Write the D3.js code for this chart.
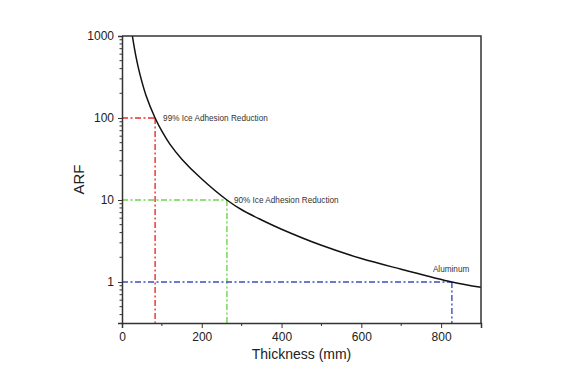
<!DOCTYPE html>
<html>
<head>
<meta charset="utf-8">
<script src="https://cdn.jsdelivr.net/npm/d3@7"></script>
<style>
  body { margin: 0; background: #fff; }
  svg { display: block; font-family: Arial, "Liberation Sans", sans-serif; }
</style>
</head>
<body>
<svg id="chart" width="567" height="385"></svg>
<script>
// ARF curve (thickness mm, ARF)
const thickness = [26, 35, 45, 60, 83, 100, 120, 150, 200, 263, 300, 350, 400, 500, 600, 700, 827, 900];
const arf = [1000, 560, 340, 190, 100, 69, 48, 31.5, 18, 10, 7.6, 5.7, 4.4, 2.8, 1.93, 1.43, 1.0, 0.86];

// reference markers
const markerLabels = ['99% Ice Adhesion Reduction', '90% Ice Adhesion Reduction', 'Aluminum'];
const markerArf = [100, 10, 1];
const markerThick = [83, 263, 827];
const markerColors = ['#ee2b2b', '#6cd64a', '#3b4fc0'];

const xTicks = [0, 200, 400, 600, 800];
const yTicks = [1, 10, 100, 1000];

const margin = { top: 36, right: 86, bottom: 62, left: 122 };
const width = 567, height = 385;

const svg = d3.select('#chart');

const x = d3.scaleLinear()
	.domain([0, 900])
	.range([margin.left, width - margin.right]);

const y = d3.scaleLog()
	.domain([0.316, 1000])
	.range([height - margin.bottom, margin.top]);

svg.append('clipPath').attr('id', 'clip')
	.append('rect')
	.attr('x', margin.left).attr('y', margin.top)
	.attr('width', width - margin.left - margin.right)
	.attr('height', height - margin.top - margin.bottom);

// dash-dot reference lines
markerArf.forEach((v, i) => {
	const g = svg.append('g')
		.attr('fill', 'none')
		.attr('stroke', markerColors[i])
		.attr('stroke-width', 1.4)
		.attr('stroke-dasharray', '6,2.5,2,2.5');
	g.append('line')
		.attr('x1', x(0)).attr('x2', x(markerThick[i]))
		.attr('y1', y(v)).attr('y2', y(v));
	g.append('line')
		.attr('x1', x(markerThick[i])).attr('x2', x(markerThick[i]))
		.attr('y1', y(v)).attr('y2', y.range()[0]);
});

// curve
const pts = thickness.map((t, i) => [t, arf[i]]);
const line = d3.line()
	.x(d => x(d[0]))
	.y(d => y(d[1]))
	.curve(d3.curveCatmullRom.alpha(0.5));

svg.append('path')
	.datum(pts)
	.attr('clip-path', 'url(#clip)')
	.attr('fill', 'none')
	.attr('stroke', '#111')
	.attr('stroke-width', 1.5)
	.attr('d', line);

// labels
const labelPos = [[8, 3], [7, 3], [-19, -10]];
markerLabels.forEach((s, i) => {
	svg.append('text')
		.attr('x', x(markerThick[i]) + labelPos[i][0])
		.attr('y', y(markerArf[i]) + labelPos[i][1])
		.attr('font-size', 8.2)
		.attr('fill', '#333')
		.text(s);
});

// frame top/right
svg.append('path')
	.attr('fill', 'none')
	.attr('stroke', '#333')
	.attr('stroke-width', 1.5)
	.attr('d', `M${x(0)},${y(1000)}H${x(900)}V${y.range()[0]}`);

// axes
const xAxis = svg.append('g')
	.attr('transform', `translate(0,${y.range()[0]})`)
	.call(d3.axisBottom(x).tickValues(xTicks).tickSize(5).tickPadding(4).tickFormat(d3.format('d')));
xAxis.append('g').selectAll('line')
	.data([100, 300, 500, 700])
	.join('line')
	.attr('x1', d => x(d)).attr('x2', d => x(d))
	.attr('y1', 0).attr('y2', 3)
	.attr('stroke', '#333');

const yAxis = svg.append('g')
	.attr('transform', `translate(${margin.left},0)`)
	.call(d3.axisLeft(y).tickValues(yTicks).tickSize(4).tickPadding(4).tickFormat(d3.format('d')));

const minor = [];
[0.1, 1, 10, 100].forEach(b => {
	for (let k = 2; k <= 9; k++) {
		const v = b * k;
		if (v >= y.domain()[0] && v < 1000) minor.push(v);
	}
});
yAxis.append('g').selectAll('line')
	.data(minor)
	.join('line')
	.attr('x1', -2.5).attr('x2', 0)
	.attr('y1', d => y(d)).attr('y2', d => y(d))
	.attr('stroke', '#333');

[xAxis, yAxis].forEach(a => {
	a.select('.domain').attr('stroke', '#333').attr('stroke-width', 1.5);
	a.selectAll('.tick line').attr('stroke', '#333');
	a.selectAll('.tick text').attr('font-size', 12).attr('fill', '#222')
		.attr('font-family', 'Arial, "Liberation Sans", sans-serif');
});

// axis titles
svg.append('text')
	.attr('x', (x(0) + x(900)) / 2)
	.attr('y', 359)
	.attr('text-anchor', 'middle')
	.attr('font-size', 14)
	.attr('fill', '#222')
	.text('Thickness (mm)');

svg.append('text')
	.attr('transform', `translate(84,${(y(1000) + y.range()[0]) / 2}) rotate(-90)`)
	.attr('text-anchor', 'middle')
	.attr('font-size', 15)
	.attr('fill', '#222')
	.text('ARF');
</script>
</body>
</html>
